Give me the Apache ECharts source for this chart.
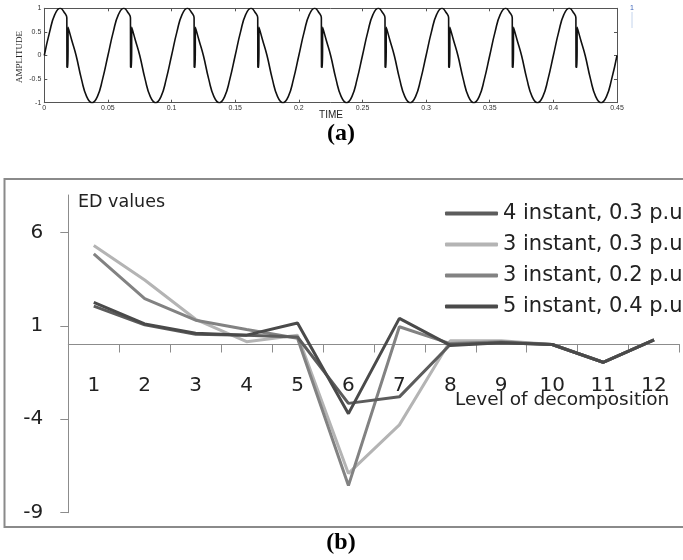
<!DOCTYPE html>
<html><head><meta charset="utf-8">
<script src="https://cdn.jsdelivr.net/npm/echarts@6/dist/echarts.min.js"></script>
<style>html,body{margin:0;padding:0;background:#fff}#c{width:683px;height:560px}</style>
</head><body><div id="c"></div>
<script>
// ---- (a) waveform ----
const waveTime = [
  0, .0042, .0083, .0125, .016, .0177, .0178, .0186, .0187, .0215, .025, .0292, .0333, .0375, .0417, .0458,
  .05, .0542, .0583, .0625, .066, .0677, .0678, .0686, .0687, .0715, .075, .0792, .0833, .0875, .0917, .0958,
  .1, .1042, .1083, .1125, .116, .1177, .1178, .1186, .1187, .1215, .125, .1292, .1333, .1375, .1417, .1458,
  .15, .1542, .1583, .1625, .166, .1677, .1678, .1686, .1687, .1715, .175, .1792, .1833, .1875, .1917, .1958,
  .2, .2042, .2083, .2125, .216, .2177, .2178, .2186, .2187, .2215, .225, .2292, .2333, .2375, .2417, .2458,
  .25, .2542, .2583, .2625, .266, .2677, .2678, .2686, .2687, .2715, .275, .2792, .2833, .2875, .2917, .2958,
  .3, .3042, .3083, .3125, .316, .3177, .3178, .3186, .3187, .3215, .325, .3292, .3333, .3375, .3417, .3458,
  .35, .3542, .3583, .3625, .366, .3677, .3678, .3686, .3687, .3715, .375, .3792, .3833, .3875, .3917, .3958,
  .4, .4042, .4083, .4125, .416, .4177, .4178, .4186, .4187, .4215, .425, .4292, .4333, .4375, .4417, .4458,
  .45
];
const waveAmp = [
  0, .5, .87, 1, .9, .8, -.25, -.25, .6, .33, 0, -.5, -.87, -1, -.87, -.5,
  0, .5, .87, 1, .9, .8, -.25, -.25, .6, .33, 0, -.5, -.87, -1, -.87, -.5,
  0, .5, .87, 1, .9, .8, -.25, -.25, .6, .33, 0, -.5, -.87, -1, -.87, -.5,
  0, .5, .87, 1, .9, .8, -.25, -.25, .6, .33, 0, -.5, -.87, -1, -.87, -.5,
  0, .5, .87, 1, .9, .8, -.25, -.25, .6, .33, 0, -.5, -.87, -1, -.87, -.5,
  0, .5, .87, 1, .9, .8, -.25, -.25, .6, .33, 0, -.5, -.87, -1, -.87, -.5,
  0, .5, .87, 1, .9, .8, -.25, -.25, .6, .33, 0, -.5, -.87, -1, -.87, -.5,
  0, .5, .87, 1, .9, .8, -.25, -.25, .6, .33, 0, -.5, -.87, -1, -.87, -.5,
  0, .5, .87, 1, .9, .8, -.25, -.25, .6, .33, 0, -.5, -.87, -1, -.87, -.5,
  0
];
const timeTicks = [0, 0.05, 0.1, 0.15, 0.2, 0.25, 0.3, 0.35, 0.4, 0.45];
const ampTicks = [-1, -0.5, 0, 0.5, 1];

// ---- (b) ED values ----
const levels = ['1','2','3','4','5','6','7','8','9','10','11','12'];
const edTicks = [-9, -4, 1, 6];
const names = ['4 instant, 0.3 p.u', '3 instant, 0.3 p.u', '3 instant, 0.2 p.u', '5 instant, 0.4 p.u'];
const inst4_03 = [2.05, 1.05, 0.55, 0.5, 0.4, -3.15, -2.8, 0.0, 0.1, 0.0, -0.95, 0.25];
const inst3_03 = [5.3, 3.45, 1.35, 0.15, 0.5, -6.9, -4.3, 0.2, 0.2, 0.0, -0.95, 0.25];
const inst3_02 = [4.85, 2.45, 1.3, 0.8, 0.33, -7.55, 0.95, 0.05, 0.15, 0.0, -0.95, 0.25];
const inst5_04 = [2.25, 1.1, 0.6, 0.5, 1.15, -3.7, 1.4, -0.05, 0.1, 0.0, -0.95, 0.25];
const colors = ['#5c5c5c', '#b4b4b4', '#828282', '#4a4a4a'];

const wave = waveTime.map((t, i) => [t, waveAmp[i]]);
const F = 'DejaVu Sans';
const axA = {onZero: false, lineStyle: {color: '#555', width: 1}};

// (b) plot box: y from -9 (bottom) to 8 (top)
const gbTop = 195, gbBottomPx = 512.7, yMinB = -9, yMaxB = 8;
const zeroOffset = (gbBottomPx - gbTop) * (0 - yMinB) / (yMaxB - yMinB);

const chart = echarts.init(document.getElementById('c'), null, {renderer: 'canvas'});
chart.setOption({
  animation: false,
  backgroundColor: '#fff',
  grid: [
    {left: 44.3, right: 66, top: 8.3, bottom: 457.3},
    {left: 68.3, right: 3.5, top: gbTop, bottom: 560 - gbBottomPx}
  ],
  xAxis: [
    {type: 'value', gridIndex: 0, min: 0, max: 0.45, interval: 0.05,
     axisLine: axA, splitLine: {show: false},
     axisTick: {inside: true, length: 3, lineStyle: {color: '#555'}, customValues: timeTicks},
     axisLabel: {fontSize: 7, color: '#333', margin: 2, fontFamily: 'Liberation Sans', customValues: timeTicks}},
    {type: 'value', gridIndex: 0, position: 'top', min: 0, max: 0.45, interval: 0.05,
     axisLine: axA, splitLine: {show: false},
     axisTick: {inside: true, length: 3, lineStyle: {color: '#555'}},
     axisLabel: {show: false}},
    {type: 'category', gridIndex: 1, data: levels, boundaryGap: true, offset: -zeroOffset,
     axisLine: {onZero: false, lineStyle: {color: '#8c8c8c', width: 1}},
     axisTick: {show: true, length: 8, interval: 0, lineStyle: {color: '#8c8c8c'}},
     axisLabel: {interval: 0, margin: 31, fontSize: 20, color: '#222', fontFamily: F},
     splitLine: {show: false}}
  ],
  yAxis: [
    {type: 'value', gridIndex: 0, min: -1, max: 1, interval: 0.5,
     axisLine: {show: true, onZero: false, lineStyle: {color: '#555', width: 1}}, splitLine: {show: false},
     axisTick: {show: true, inside: true, length: 3, lineStyle: {color: '#555'}, customValues: ampTicks},
     axisLabel: {fontSize: 7, color: '#333', margin: 3, fontFamily: 'Liberation Sans', customValues: ampTicks}},
    {type: 'value', gridIndex: 0, position: 'right', min: -1, max: 1, interval: 0.5,
     axisLine: {show: true, onZero: false, lineStyle: {color: '#555', width: 1}}, splitLine: {show: false},
     axisTick: {show: true, inside: true, length: 3, lineStyle: {color: '#555'}},
     axisLabel: {show: false}},
    {type: 'value', gridIndex: 1, min: yMinB, max: yMaxB, interval: 5,
     axisLine: {show: true, onZero: false, lineStyle: {color: '#8c8c8c', width: 1}},
     splitLine: {show: false},
     axisTick: {show: true, length: 8, lineStyle: {color: '#8c8c8c'}, customValues: edTicks},
     axisLabel: {margin: 25, fontSize: 20, color: '#222', fontFamily: F, customValues: edTicks}}
  ],
  legend: {
    data: names, orient: 'vertical', left: 440, top: 198,
    itemWidth: 53, itemHeight: 4, itemGap: 10, icon: 'roundRect',
    textStyle: {fontSize: 21, fontFamily: F, color: '#222', lineHeight: 21, padding: [0, 0, 0, 0]}
  },
  series: [
    {type: 'line', xAxisIndex: 0, yAxisIndex: 0, data: wave, showSymbol: false,
     smooth: 0.5, lineStyle: {color: '#111', width: 1.6}, silent: true},
    {type: 'line', name: names[1], xAxisIndex: 2, yAxisIndex: 2, data: inst3_03, showSymbol: false,
     itemStyle: {color: colors[1]}, lineStyle: {color: colors[1], width: 3}},
    {type: 'line', name: names[2], xAxisIndex: 2, yAxisIndex: 2, data: inst3_02, showSymbol: false,
     itemStyle: {color: colors[2]}, lineStyle: {color: colors[2], width: 3}},
    {type: 'line', name: names[0], xAxisIndex: 2, yAxisIndex: 2, data: inst4_03, showSymbol: false,
     itemStyle: {color: colors[0]}, lineStyle: {color: colors[0], width: 3}},
    {type: 'line', name: names[3], xAxisIndex: 2, yAxisIndex: 2, data: inst5_04, showSymbol: false,
     itemStyle: {color: colors[3]}, lineStyle: {color: colors[3], width: 3}}
  ],
  graphic: [
    {type: 'rect', shape: {x: 4.5, y: 179, width: 720, height: 348}, silent: true,
     style: {fill: 'none', stroke: '#8a8a8a', lineWidth: 2}, z: -1},
    {type: 'text', x: 78, y: 202, silent: true,
     style: {text: 'ED values', font: '17.5px "DejaVu Sans"', fill: '#222', textVerticalAlign: 'middle'}},
    {type: 'text', x: 455, y: 400, silent: true,
     style: {text: 'Level of decomposition', font: '18.5px "DejaVu Sans"', fill: '#222', textVerticalAlign: 'middle'}},
    {type: 'text', x: 341, y: 134, silent: true,
     style: {text: '(a)', font: 'bold 24px "Liberation Serif"', fill: '#000', textAlign: 'center', textVerticalAlign: 'middle'}},
    {type: 'text', x: 341, y: 543, silent: true,
     style: {text: '(b)', font: 'bold 24px "Liberation Serif"', fill: '#000', textAlign: 'center', textVerticalAlign: 'middle'}},
    {type: 'text', x: 20, y: 57, rotation: Math.PI / 2, silent: true,
     style: {text: 'AMPLITUDE', font: '9px "Liberation Sans Narrow"', fill: '#222', textAlign: 'center', textVerticalAlign: 'middle'}},
    {type: 'text', x: 331, y: 115, silent: true,
     style: {text: 'TIME', font: '10px "Liberation Sans"', fill: '#222', textAlign: 'center', textVerticalAlign: 'middle'}},
    {type: 'text', x: 632, y: 8, silent: true,
     style: {text: '1', font: '7px "Liberation Sans"', fill: '#3a62b8', textAlign: 'center', textVerticalAlign: 'middle'}},
    {type: 'line', shape: {x1: 632, y1: 12, x2: 632, y2: 28}, silent: true,
     style: {stroke: '#c4d4ec', lineWidth: 1}}
  ]
});
</script></body></html>
